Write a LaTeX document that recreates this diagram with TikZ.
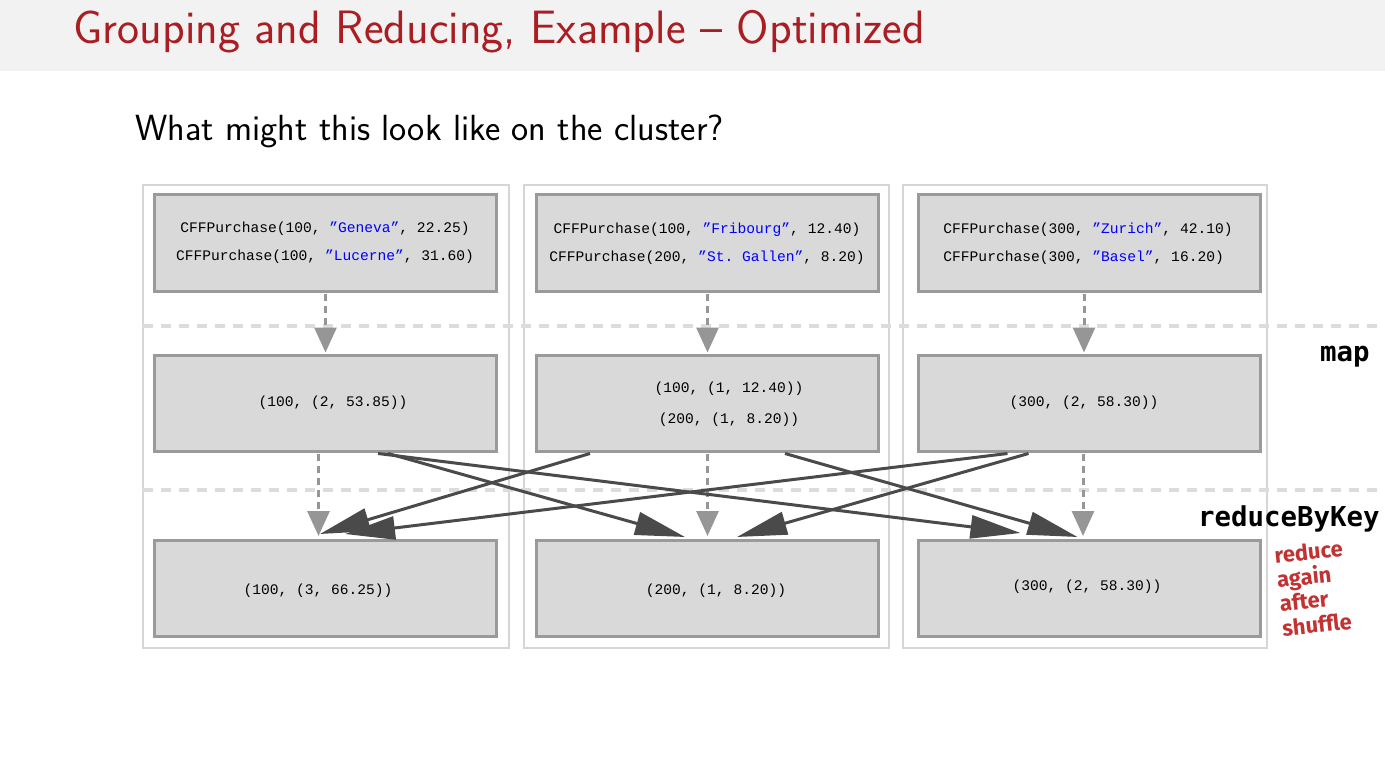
\documentclass[tikz,border=0pt]{standalone}
\usepackage{fontspec}
\setmonofont{Liberation Mono}
\newfontfamily\labelfont{DejaVu Sans Mono}
\newfontfamily\notefont{Fira Sans}
\usetikzlibrary{arrows.meta,calc}
\definecolor{titlered}{RGB}{170,30,35}
\definecolor{notered}{RGB}{195,50,50}
\definecolor{headergray}{RGB}{242,242,242}
\definecolor{framegray}{RGB}{214,214,214}
\definecolor{dashgray}{RGB}{220,220,220}
\definecolor{boxfill}{RGB}{217,217,217}
\definecolor{boxborder}{RGB}{154,154,154}
\definecolor{flowgray}{RGB}{150,150,150}
\definecolor{shufflegray}{RGB}{74,74,74}
\newcommand{\city}[1]{\textcolor{blue}{#1}}
\begin{document}
\begin{tikzpicture}[x=0.5pt,y=-0.5pt,
  frame/.style={draw=framegray, line width=1.4pt},
  stage/.style={draw=dashgray, line width=2pt, dash pattern=on 5pt off 4pt},
  box/.style={draw=boxborder, fill=boxfill, line width=1.5pt,
    minimum width=171pt, minimum height=48pt, inner sep=0pt},
  boxtext/.style={font=\ttfamily\fontsize{7.3}{14}\selectfont, inner sep=0pt},
  flow/.style={draw=flowgray, line width=1.5pt, dash pattern=on 3.5pt off 2.5pt,
    -{Triangle[length=12.5pt,width=11pt]}},
  shuffle/.style={draw=shufflegray, line width=1.5pt,
    -{Triangle[length=25pt,width=11.5pt]}},
  oplabel/.style={font=\labelfont\bfseries\fontsize{13.7}{14}\selectfont, inner sep=0pt, anchor=base east},
  note/.style={font=\notefont\bfseries\fontsize{11}{12.2}\selectfont, text=notered,
    inner sep=0pt, rotate=6, align=left}
]
% page and header band
\useasboundingbox (0,0) rectangle (1385,759);
\fill[white] (0,0) rectangle (1385,759);
\fill[headergray] (0,0) rectangle (1385,71);
\node[anchor=base west, inner sep=0pt, text=titlered,
  font=\sffamily\fontsize{23.4}{25}\selectfont] (title) at (73,44)
  {Grouping and Reducing, Example – Optimized};
\node[anchor=base west, inner sep=0pt,
  font=\sffamily\fontsize{18.2}{20}\selectfont] (question) at (135,141)
  {What might this look like on the cluster?};

% one frame per cluster node
\draw[frame] (143,185) rectangle (509,648);
\draw[frame] (524,185) rectangle (889,648);
\draw[frame] (903,185) rectangle (1267,648);

% stage separators
\draw[stage] (143,326) -- (1385,326);
\draw[stage] (143,490) -- (1385,490);
\node[oplabel] (maplabel) at (1370,361) {map};
\node[oplabel] (reducelabel) at (1380,526) {reduceByKey};

% input partitions
\node[box] (p1) at (325.5,243) {};
\node[box] (p2) at (707.5,243) {};
\node[box] (p3) at (1089,243) {};
% after map
\node[box] (m1) at (325.5,403) {};
\node[box] (m2) at (707.5,403) {};
\node[box] (m3) at (1089,403) {};
% after reduceByKey
\node[box] (r1) at (325.5,588.5) {};
\node[box] (r2) at (707.5,588.5) {};
\node[box] (r3) at (1089,588.5) {};

% contents
\node[boxtext, align=center] (p1t) at (325,243)
  {CFFPurchase(100, \city{”Geneva”}, 22.25)\\CFFPurchase(100, \city{”Lucerne”}, 31.60)};
\node[boxtext, align=center] (p2t) at (707,244)
  {CFFPurchase(100, \city{”Fribourg”}, 12.40)\\CFFPurchase(200, \city{”St. Gallen”}, 8.20)};
\node[boxtext, align=left] (p3t) at (1088,244)
  {CFFPurchase(300, \city{”Zurich”}, 42.10)\\CFFPurchase(300, \city{”Basel”}, 16.20)};
\node[boxtext] (m1t) at (333,403) {(100, (2, 53.85))};
\node[boxtext, align=center, font=\ttfamily\fontsize{7.3}{15.5}\selectfont] (m2t) at (729,404.5)
  {(100, (1, 12.40))\\(200, (1, 8.20))};
\node[boxtext] (m3t) at (1084,403) {(300, (2, 58.30))};
\node[boxtext] (r1t) at (318,591) {(100, (3, 66.25))};
\node[boxtext] (r2t) at (716,591) {(200, (1, 8.20))};
\node[boxtext] (r3t) at (1087,587) {(300, (2, 58.30))};

% local steps
\draw[flow] ($(p1.south)+(0,1)$) -- ($(m1.north)+(0,-1)$);
\draw[flow] ($(p2.south)+(0,1)$) -- ($(m2.north)+(0,-1)$);
\draw[flow] ($(p3.south)+(-5,1)$) -- ($(m3.north)+(-5,-1)$);
\draw[flow] ($(m1.south)+(-7,1)$) -- ($(r1.north)+(-7,-3)$);
\draw[flow] ($(m2.south)+(0,1)$) -- ($(r2.north)+(0,-3)$);
\draw[flow] ($(m3.south)+(-6,1)$) -- ($(r3.north)+(-6,-3)$);

% shuffle between nodes
\draw[shuffle] ($(m1.south west)+(235,1)$) -- ($(r2.north west)+(150,-2)$);
\draw[shuffle] ($(m1.south west)+(225,1)$) -- ($(r3.north west)+(104,-6)$);
\draw[shuffle] ($(m2.south west)+(55,1)$) -- ($(r1.north west)+(167,-5)$);
\draw[shuffle] ($(m2.south west)+(250,1)$) -- ($(r3.north west)+(161,-2)$);
\draw[shuffle] ($(m3.south west)+(91,1)$) -- ($(r1.north west)+(192,-5)$);
\draw[shuffle] ($(m3.south west)+(112,1)$) -- ($(r2.north west)+(202,-2)$);

% handwritten remark
\node[note] (remark) at (1313,588) {reduce\\again\\after\\shuffle};
\end{tikzpicture}
\end{document}
